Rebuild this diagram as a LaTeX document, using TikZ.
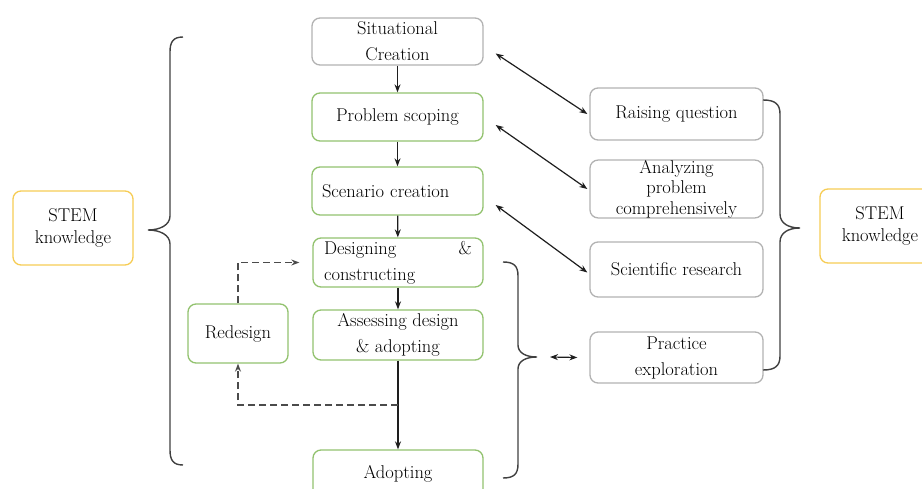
\documentclass[tikz,border=0pt]{standalone}
\usepackage{fontspec}
\usetikzlibrary{arrows.meta,calc}
\definecolor{boxgray}{RGB}{178,178,178}
\definecolor{boxgreen}{RGB}{146,194,110}
\definecolor{boxyellow}{RGB}{246,204,84}
\definecolor{ink}{RGB}{30,30,30}
\begin{document}
\begin{tikzpicture}[x=1pt,y=-1pt,
  box/.style={draw=#1, line width=1.3pt, rounded corners=8pt, inner sep=0pt,
    align=center, font=\fontsize{18.5}{26}\selectfont, text=black},
  flow/.style={draw=ink, line width=1.2pt, -{Stealth[length=8pt,width=6pt]}},
  both/.style={draw=ink, line width=1.2pt, {Stealth[length=8pt,width=6pt]}-{Stealth[length=8pt,width=6pt]}},
  dsh/.style={draw=ink!80, line width=1.2pt, dash pattern=on 7pt off 4pt, -{Stealth[length=8pt,width=6pt]}},
  brace/.style={draw=ink!85, line width=1.4pt}
]
\useasboundingbox (0,0) rectangle (922,489);
\clip (0,0) rectangle (922,489);

% central column
\node[box=boxgray, minimum width=171pt, minimum height=47pt] (sit) at (397.5,41.5) {Situational\\Creation};
\node[box=boxgreen, minimum width=171pt, minimum height=48pt] (ps) at (397.5,117) {Problem scoping};
\node[box=boxgreen, minimum width=171pt, minimum height=48pt, text width=151pt, align=left, inner xsep=10pt] (sc) at (397.5,191) {Scenario creation};
\node[box=boxgreen, minimum width=170pt, minimum height=49pt, text width=148pt, align=left, inner xsep=11pt] (dc) at (398,262.5) {Designing\hfill\&\\constructing};
\node[box=boxgreen, minimum width=170pt, minimum height=50pt] (as) at (398,335) {Assessing design\\\& adopting};
\node[box=boxgreen, minimum width=170pt, minimum height=48pt] (ad) at (398,474) {Adopting};
\node[box=boxgreen, minimum width=100pt, minimum height=59pt] (rd) at (238,333.5) {Redesign};

% STEM boxes
\node[box=boxyellow, minimum width=120pt, minimum height=74pt, font=\fontsize{18.5}{22}\selectfont] (stemL) at (73,228) {STEM\\knowledge};
\node[box=boxyellow, minimum width=120pt, minimum height=74pt, font=\fontsize{18.5}{22}\selectfont] (stemR) at (880,226) {STEM\\knowledge};

% right column
\node[box=boxgray, minimum width=173pt, minimum height=52pt] (rq) at (676.5,114) {Raising question};
\node[box=boxgray, minimum width=173pt, minimum height=52pt, font=\fontsize{18.5}{20.5}\selectfont] (ac) at (676.5,189) {Analyzing\\problem\\comprehensively};
\node[box=boxgray, minimum width=173pt, minimum height=55pt] (sr) at (676.5,269.5) {Scientific research};
\node[box=boxgray, minimum width=173pt, minimum height=51pt] (pe) at (676.5,357.5) {Practice\\exploration};

% vertical flow
\draw[flow] (sit) -- (ps);
\draw[flow] (ps) -- (sc);
\draw[flow] (sc) -- (dc);
\draw[flow] (dc) -- (as);
\draw[flow] (as) -- (ad);

% redesign loop
\coordinate (j) at (398,405);
\draw[dsh] (j) -| (rd.south);
\draw[dsh] (rd.north) |- ([xshift=-13pt]dc.west);

% diagonal double arrows
\draw[both] ($(sit.east)+(12,12)$) -- ([xshift=-2pt]rq.west);
\draw[both] ($(ps.east)+(12,8)$) -- ([xshift=-2pt]ac.west);
\draw[both] ($(sc.east)+(12,14)$) -- ([xshift=-2pt,yshift=-3pt]sr.west);

% middle brace and arrow
\coordinate (mtip) at (537,357);
\draw[brace] (503,262) .. controls (514,262) and (518,266) .. (518,276) -- (518,345)
  .. controls (518,353) and (526,357) .. (mtip) .. controls (526,357) and (518,361) .. (518,369)
  -- (518,464) .. controls (518,474) and (514,478) .. (503,478);
\draw[both] ([xshift=13pt]mtip) -- ([xshift=-12pt]pe.west);

% left brace
\draw[brace] (183,37) .. controls (173,37) and (170,42) .. (170,52) -- (170,216)
  .. controls (170,225) and (160,230) .. (148,230) .. controls (160,230) and (170,235) .. (170,244)
  -- (170,450) .. controls (170,460) and (173,465) .. (183,465);

% right brace
\draw[brace] (763,100) .. controls (775,100) and (780,104) .. (780,114) -- (780,214)
  .. controls (780,223) and (788,228) .. (800,228) .. controls (788,228) and (780,233) .. (780,242)
  -- (780,356) .. controls (780,366) and (775,370) .. (763,370);
\end{tikzpicture}
\end{document}
